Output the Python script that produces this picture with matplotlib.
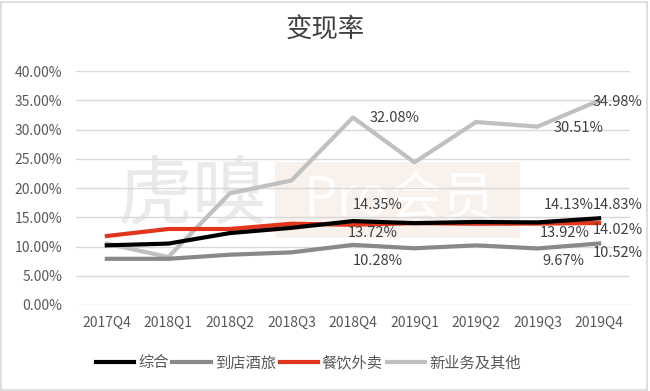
import numpy as np
import matplotlib.pyplot as plt
from matplotlib.patches import Rectangle

plt.rcParams['font.family'] = ['Noto Sans CJK SC', 'DejaVu Sans']

# 数据
quarters = ['2017Q4', '2018Q1', '2018Q2', '2018Q3', '2018Q4',
            '2019Q1', '2019Q2', '2019Q3', '2019Q4']
zonghe = [10.2, 10.5, 12.3, 13.2, 14.35, 14.0, 14.2, 14.13, 14.83]
daodian = [7.9, 7.9, 8.6, 9.0, 10.28, 9.7, 10.2, 9.67, 10.52]
canyin = [11.8, 13.0, 13.0, 13.9, 13.72, 14.0, 13.9, 13.92, 14.02]
xinyewu = [10.5, 8.2, 19.1, 21.3, 32.08, 24.4, 31.3, 30.51, 34.98]
series_names = ['综合', '到店酒旅', '餐饮外卖', '新业务及其他']

fig = plt.figure(figsize=(6.5, 3.91), dpi=100)
ax = fig.add_axes([0.117, 0.22, 0.852, 0.598])
ax.set_facecolor('none')

x = np.arange(len(quarters))
ax.plot(x, zonghe, color='#000000', lw=3, label=series_names[0], zorder=4)
ax.plot(x, daodian, color='#898989', lw=3, label=series_names[1], zorder=3)
ax.plot(x, canyin, color='#e2361c', lw=3, label=series_names[2], zorder=3)
ax.plot(x, xinyewu, color='#c0c0c0', lw=3, label=series_names[3], zorder=2)

ax.set_xlim(-0.5, len(quarters) - 0.5)
ax.set_ylim(0, 40)
ax.set_yticks(np.arange(0, 41, 5))
ax.set_yticklabels(['%.2f%%' % v for v in np.arange(0, 41, 5)])
ax.set_xticks(x)
ax.set_xticklabels(quarters)
ax.tick_params(length=0, labelsize=10, labelcolor='#595959', pad=8)
ax.tick_params(axis='y', pad=10)
ax.grid(axis='y', color='#d9d9d9', lw=1)
ax.set_axisbelow(True)
for s in ax.spines.values():
    s.set_visible(False)

# 数据标签
lab = dict(fontsize=10.5, color='#404040', ha='center', va='center')
ax.text(4.68, 32.0, '32.08%', **lab)
ax.text(4.4, 17.1, '14.35%', **lab)
ax.text(4.32, 12.3, '13.72%', **lab)
ax.text(4.4, 7.5, '10.28%', **lab)
ax.text(7.66, 30.3, '30.51%', **lab)
ax.text(7.5, 17.1, '14.13%', **lab)
ax.text(7.45, 12.3, '13.92%', **lab)
ax.text(7.42, 7.5, '9.67%', **lab)
lab['ha'] = 'left'
ax.text(7.9, 34.8, '34.98%', **lab)
ax.text(7.9, 17.1, '14.83%', **lab)
ax.text(7.9, 12.8, '14.02%', **lab)
ax.text(7.9, 8.9, '10.52%', **lab)

# 水印
fig.text(0.297, 0.50, '虎嗅', fontsize=54, color='#dadada', alpha=0.55,
         fontweight='light', ha='center', va='center', zorder=-2)
fig.patches.append(Rectangle((0.423, 0.391), 0.377, 0.195, transform=fig.transFigure,
                             facecolor='#f8f1ec', edgecolor='none', zorder=-3))
fig.text(0.615, 0.49, 'Pro会员', fontsize=38, color='#ffffff',
         ha='center', va='center', zorder=-2)

# 标题
fig.text(0.5, 0.923, '变现率', fontsize=19, color='#404040', ha='center', va='center')

leg = fig.legend(loc='center', bbox_to_anchor=(0.474, 0.072), ncol=4, frameon=False,
                 fontsize=11, handlelength=2.5, handletextpad=0.27, columnspacing=0.25)
for t in leg.get_texts():
    t.set_color('#595959')

# 边框
fig.patches.append(Rectangle((0.002, 0.002), 0.994, 0.994, transform=fig.transFigure,
                             fill=False, edgecolor='#d9d9d9', lw=1.2))

fig.savefig('out.png', dpi=100)
